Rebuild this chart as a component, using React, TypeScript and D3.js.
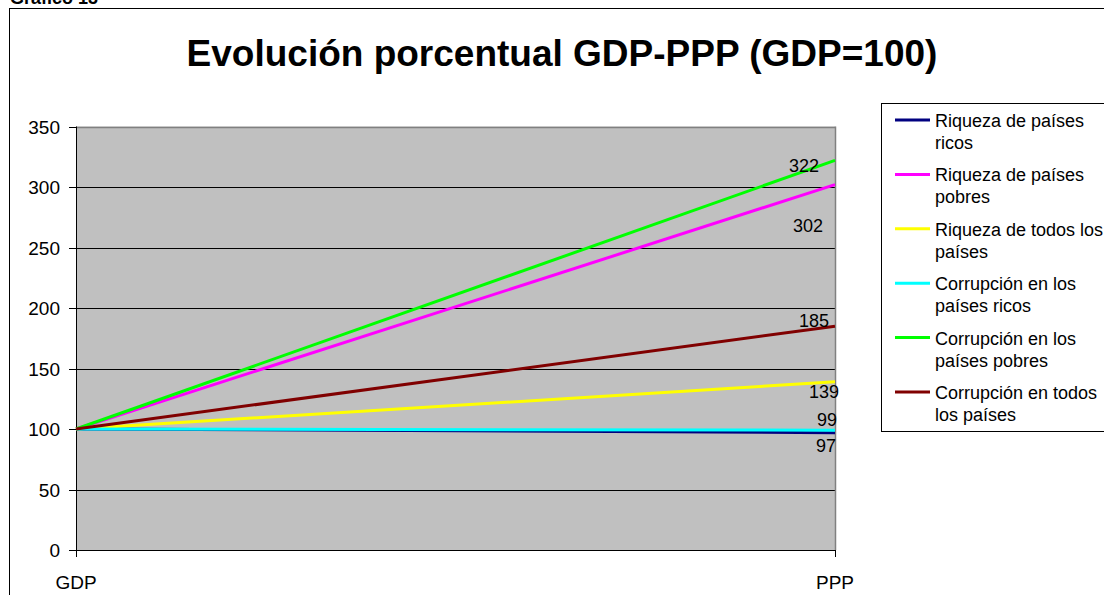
import React from "react";
import * as d3 from "d3";

const categories = ["GDP", "PPP"];
const seriesNames = [
  "Riqueza de países ricos",
  "Riqueza de países pobres",
  "Riqueza de todos los países",
  "Corrupción en los países ricos",
  "Corrupción en los países pobres",
  "Corrupción en todos los países",
];
const legendLines = [
  ["Riqueza de países", "ricos"],
  ["Riqueza de países", "pobres"],
  ["Riqueza de todos los", "países"],
  ["Corrupción en los", "países ricos"],
  ["Corrupción en los", "países pobres"],
  ["Corrupción en todos", "los países"],
];
const gdpValues = [100, 100, 100, 100, 100, 100];
const pppValues = [97, 302, 139, 99, 322, 185];
const seriesColors = ["#000080", "#FF00FF", "#FFFF00", "#00FFFF", "#00FF00", "#800000"];
const yTicks = [0, 50, 100, 150, 200, 250, 300, 350];
// label offsets (styling): dx, dy relative to end point, text-anchor end
const labelOffsets = [
  [1, 19],
  [-12, 47],
  [4, 16],
  [2, -4],
  [-16, 12],
  [-6, 1],
];

export default function App() {
  const W = 1104, H = 595;
  const left = 76, right = 835, top = 126.5, bottom = 550;
  const x = d3.scalePoint<string>().domain(categories).range([left, right]);
  const y = d3.scaleLinear().domain([0, 350]).range([bottom, top]);
  const line = d3.line<[string, number]>().x(d => x(d[0]) as number).y(d => y(d[1]));
  const font = "Arial, 'Liberation Sans', sans-serif";

  return (
    <svg width={W} height={H} style={{ position: "fixed", left: 0, top: 0, background: "#fff" }} fontFamily={font}>
      <text x={10} y={4} fontSize={18} fontWeight="bold">Gráfico 13</text>
      <rect x={9.5} y={8.5} width={1200} height={700} fill="#fff" stroke="#000" strokeWidth={1} />
      <text x={562} y={66} fontSize={37} fontWeight="bold" textAnchor="middle">
        Evolución porcentual GDP-PPP (GDP=100)
      </text>
      {/* plot area */}
      <rect x={left} y={top} width={right - left} height={bottom - top} fill="#C0C0C0" />
      {yTicks.filter(t => t > 0 && t < 350).map(t => (
        <line key={t} x1={left} x2={right} y1={Math.round(y(t)) + 0.5} y2={Math.round(y(t)) + 0.5} stroke="#000" strokeWidth={1} />
      ))}
      <line x1={left} x2={right + 0.5} y1={Math.round(top) + 0.5} y2={Math.round(top) + 0.5} stroke="#808080" strokeWidth={1.5} />
      <line x1={right + 0.5} x2={right + 0.5} y1={top} y2={bottom} stroke="#808080" strokeWidth={1.5} />
      <line x1={left + 0.5} x2={left + 0.5} y1={top} y2={bottom + 0.5} stroke="#000" />
      <line x1={left} x2={right + 1} y1={bottom + 0.5} y2={bottom + 0.5} stroke="#000" />
      {yTicks.map(t => (
        <g key={t}>
          <line x1={69} x2={left} y1={Math.round(y(t)) + 0.5} y2={Math.round(y(t)) + 0.5} stroke="#000" />
          <text x={60} y={y(t) + 7} fontSize={19} textAnchor="end">{t}</text>
        </g>
      ))}
      {categories.map(c => (
        <g key={c}>
          <line x1={(x(c) as number) + 0.5} x2={(x(c) as number) + 0.5} y1={bottom} y2={bottom + 7} stroke="#000" />
          <text x={x(c) as number} y={589} fontSize={19} textAnchor="middle">{c}</text>
        </g>
      ))}
      {seriesNames.map((s, i) => (
        <path key={s}
          d={line([[categories[0], gdpValues[i]], [categories[1], pppValues[i]]]) as string}
          fill="none" stroke={seriesColors[i]} strokeWidth={3} />
      ))}
      {seriesNames.map((s, i) => (
        <text key={s + "l"} x={(x(categories[1]) as number) + labelOffsets[i][0]}
          y={y(pppValues[i]) + labelOffsets[i][1]} fontSize={18} textAnchor="end">{pppValues[i]}</text>
      ))}
      {/* legend */}
      <rect x={881.5} y={103.5} width={300} height={328} fill="#fff" stroke="#000" strokeWidth={1} />
      {seriesNames.map((s, i) => {
        const ly = 120 + i * 54.4;
        return (
          <g key={s + "g"}>
            <line x1={895} x2={930} y1={ly} y2={ly} stroke={seriesColors[i]} strokeWidth={3} />
            <text x={935} y={ly + 7} fontSize={18}>{legendLines[i][0]}</text>
            <text x={935} y={ly + 29} fontSize={18}>{legendLines[i][1]}</text>
          </g>
        );
      })}
    </svg>
  );
}
